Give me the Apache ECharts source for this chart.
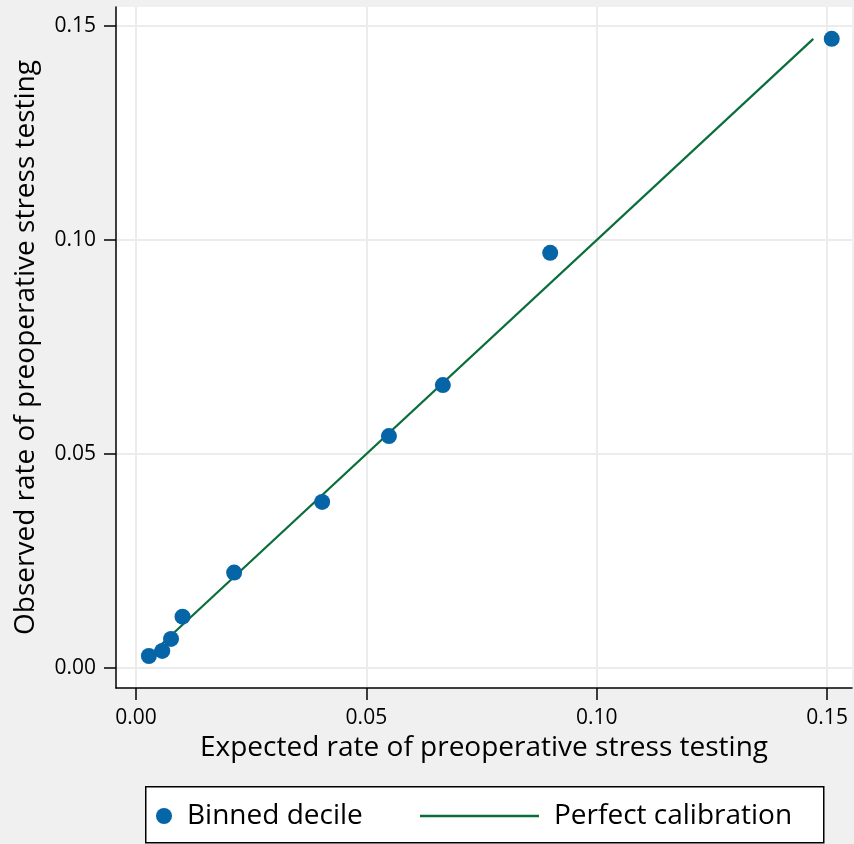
<!DOCTYPE html>
<html><head><meta charset="utf-8">
<script src="https://cdn.jsdelivr.net/npm/echarts@6/dist/echarts.min.js"></script>
<style>html,body{margin:0;padding:0;background:#f0f0f0}#c{width:854px;height:844px}</style>
</head><body><div id="c"></div>
<script>
const expected = [0.0028, 0.0057, 0.0076, 0.0101, 0.0213, 0.0404, 0.0549, 0.0666, 0.0899, 0.1510];
const observed = [0.0028, 0.0040, 0.0068, 0.0120, 0.0223, 0.0388, 0.0542, 0.0661, 0.0970, 0.1470];
const calibLine = [0.0028, 0.147];
const tickValues = [0, 0.05, 0.10, 0.15];
const FONT = 'Open Sans';

const chart = echarts.init(document.getElementById('c'));
const axisCommon = {
  type: 'value',
  axisLine: {show: true, onZero: false, lineStyle: {color: '#000', width: 1.5}},
  axisTick: {show: true, inside: false, length: 12, lineStyle: {color: '#000', width: 1.5}, customValues: tickValues},
  axisLabel: {fontFamily: FONT, fontSize: 21, color: '#000', margin: 20, customValues: tickValues,
    formatter: v => v.toFixed(2)},
  splitLine: {show: true, lineStyle: {color: '#ececec', width: 2}},
  nameLocation: 'middle',
  nameTextStyle: {fontFamily: FONT, fontSize: 28, color: '#000'}
};
chart.setOption({
  backgroundColor: '#f0f0f0',
  animation: false,
  grid: {left: 116, top: 7, right: 2, bottom: 156, show: true, backgroundColor: '#fff', borderWidth: 0, containLabel: false},
  xAxis: Object.assign({}, axisCommon, {min: -0.00434, max: 0.1554, name: 'Expected rate of preoperative stress testing', nameGap: 46}),
  yAxis: Object.assign({}, axisCommon, {min: -0.00467, max: 0.15444, name: 'Observed rate of preoperative stress testing', nameGap: 76}),
  legend: [
    {data: ['Binned decile'], left: 151, top: 797, icon: 'circle', itemWidth: 16, itemHeight: 16, itemGap: 0,
     textStyle: {fontFamily: FONT, fontSize: 28, color: '#000', padding: [0,0,0,10]}},
    {data: [{name: 'Perfect calibration', icon: 'rect'}], left: 415, top: 797, itemWidth: 119, itemHeight: 2.5,
     textStyle: {fontFamily: FONT, fontSize: 28, color: '#000', padding: [0,0,0,10]}}
  ],
  graphic: [{type: 'rect', left: 145, top: 786, shape: {width: 678, height: 56},
    style: {fill: '#fff', stroke: '#000', lineWidth: 1.5}, z: -1}],
  series: [
    {name: 'Binned decile', type: 'scatter', symbolSize: 16, itemStyle: {color: '#0565a6', opacity: 1},
     data: expected.map((x, i) => [x, observed[i]]), z: 3},
    {name: 'Perfect calibration', type: 'line', showSymbol: false, symbol: 'none',
     lineStyle: {color: '#0a6e3c', width: 2.2}, itemStyle: {color: '#0a6e3c'},
     data: calibLine.map(v => [v, v]), z: 2}
  ]
});
</script></body></html>
